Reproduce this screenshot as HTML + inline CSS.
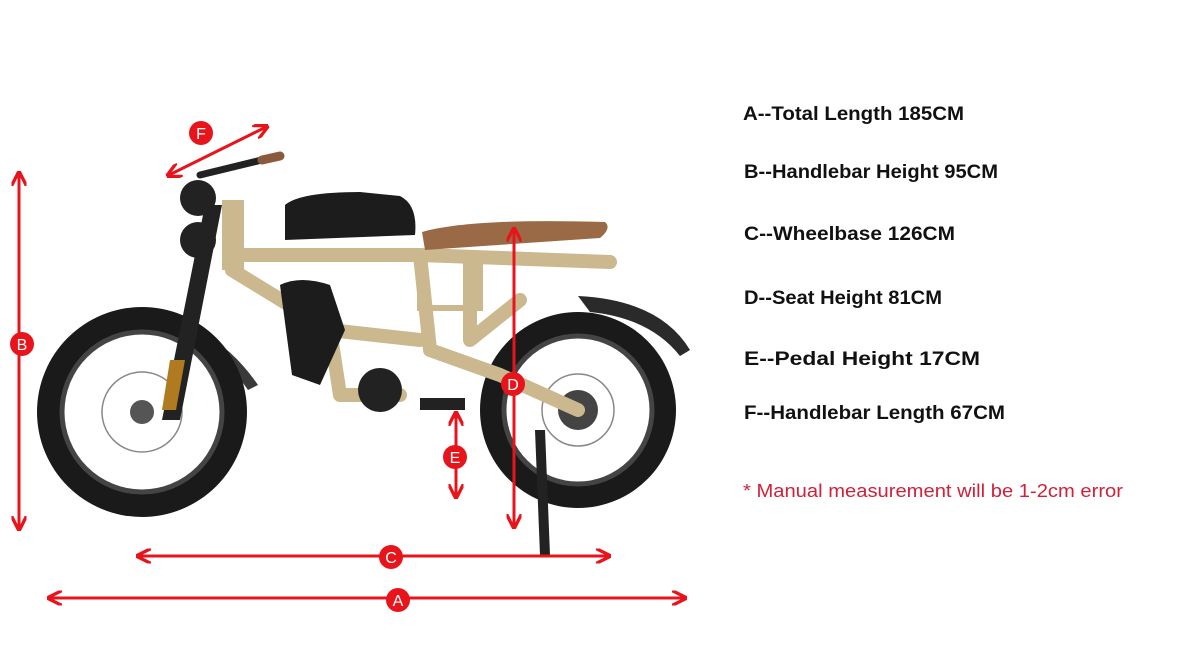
<!DOCTYPE html>
<html><head><meta charset="utf-8"><style>
html,body{margin:0;padding:0;background:#fff;}
svg{display:block;}
</style></head><body>
<svg width="1178" height="663" viewBox="0 0 1178 663" xmlns="http://www.w3.org/2000/svg">
<defs>
<marker id="ah" viewBox="0 0 10 10" refX="8" refY="5" markerWidth="5" markerHeight="5" orient="auto-start-reverse">
<path d="M0,0 L10,5 L0,10" fill="none" stroke="#e8141b" stroke-width="2.2"/>
</marker>
</defs>
<rect width="1178" height="663" fill="#fff"/>
<g>
<path d="M578,296 Q660,300 690,350 L680,356 Q650,318 590,312 Z" fill="#2a2a2a"/>
<path d="M95,320 Q200,300 258,385 L248,390 Q200,320 110,330 Z" fill="#3a3a3a"/>
<circle cx="142" cy="412" r="105" fill="#1a1a1a"/>
<circle cx="142" cy="412" r="80" fill="#fff"/>
<circle cx="142" cy="412" r="80" fill="none" stroke="#444" stroke-width="5"/>
<circle cx="142" cy="412" r="40" fill="none" stroke="#888" stroke-width="1.5"/>
<circle cx="142" cy="412" r="12" fill="#555"/>
<circle cx="578" cy="410" r="98" fill="#1a1a1a"/>
<circle cx="578" cy="410" r="74" fill="#fff"/>
<circle cx="578" cy="410" r="74" fill="none" stroke="#444" stroke-width="5"/>
<circle cx="578" cy="410" r="36" fill="none" stroke="#888" stroke-width="1.5"/>
<circle cx="578" cy="410" r="20" fill="#444"/>
<path d="M205,205 L222,205 L180,420 L162,420 Z" fill="#222"/>
<path d="M170,360 L185,360 L176,410 L162,410 Z" fill="#b07a20"/>
<g stroke="#cbb88f" stroke-width="14" fill="none" stroke-linecap="round" stroke-linejoin="round">
<path d="M240,255 L420,255 L610,262"/>
<path d="M232,215 L232,270 L330,330 L420,340"/>
<path d="M420,255 L430,350 L500,375 L578,410"/>
<path d="M470,262 L470,340 L520,300"/>
<path d="M330,330 L340,395 L400,395"/>
</g>
<rect x="420" y="258" width="60" height="50" fill="none" stroke="#cbb88f" stroke-width="6"/>
<rect x="222" y="200" width="22" height="70" fill="#cbb88f"/>
<circle cx="198" cy="198" r="18" fill="#222"/>
<circle cx="198" cy="240" r="18" fill="#222"/>
<path d="M200,175 L270,158" stroke="#222" stroke-width="7" stroke-linecap="round"/>
<path d="M262,160 L280,156" stroke="#8b5a3c" stroke-width="9" stroke-linecap="round"/>
<path d="M285,205 Q300,192 360,192 L400,196 Q418,205 415,235 L285,240 Z" fill="#1c1c1c"/>
<path d="M422,232 Q470,218 605,222 Q612,228 600,238 L425,250 Z" fill="#9a6a47"/>
<path d="M280,285 Q300,275 330,285 L345,330 L320,385 L292,375 Z" fill="#1c1c1c"/>
<circle cx="380" cy="390" r="22" fill="#222"/>
<rect x="420" y="398" width="45" height="12" fill="#222"/>
<path d="M535,430 L540,555 L550,555 L545,430 Z" fill="#222"/>
</g>
<g stroke="#e8141b" stroke-width="3" fill="none" marker-start="url(#ah)" marker-end="url(#ah)">
<line x1="50" y1="598" x2="684" y2="598"/>
<line x1="139" y1="556" x2="608" y2="556"/>
<line x1="19" y1="174" x2="19" y2="528"/>
<line x1="514" y1="230" x2="514" y2="526"/>
<line x1="456" y1="414" x2="456" y2="496"/>
<line x1="169" y1="175" x2="266" y2="127"/>
</g>
<g fill="#e8141b" font-family="Liberation Sans, sans-serif" font-size="16" text-anchor="middle">
<circle cx="398" cy="600" r="12"/><text x="398" y="606" fill="#fff">A</text>
<circle cx="391" cy="557" r="12"/><text x="391" y="563" fill="#fff">C</text>
<circle cx="22" cy="344" r="12"/><text x="22" y="350" fill="#fff">B</text>
<circle cx="513" cy="384" r="12"/><text x="513" y="390" fill="#fff">D</text>
<circle cx="455" cy="457" r="12"/><text x="455" y="463" fill="#fff">E</text>
<circle cx="201" cy="133" r="12"/><text x="201" y="139" fill="#fff">F</text>
</g>
<g font-family="Liberation Sans, sans-serif" font-weight="bold" font-size="19" fill="#111">
<text x="743" y="120" textLength="221" lengthAdjust="spacingAndGlyphs">A--Total Length 185CM</text>
<text x="744" y="178" textLength="254" lengthAdjust="spacingAndGlyphs">B--Handlebar Height 95CM</text>
<text x="744" y="240" textLength="211" lengthAdjust="spacingAndGlyphs">C--Wheelbase 126CM</text>
<text x="744" y="304" textLength="198" lengthAdjust="spacingAndGlyphs">D--Seat Height 81CM</text>
<text x="744" y="365" textLength="236" lengthAdjust="spacingAndGlyphs">E--Pedal Height 17CM</text>
<text x="744" y="419" textLength="261" lengthAdjust="spacingAndGlyphs">F--Handlebar Length 67CM</text>
</g>
<text x="743" y="497" font-family="Liberation Sans, sans-serif" font-size="18" fill="#d0203a" textLength="380" lengthAdjust="spacingAndGlyphs">*  Manual measurement will be 1-2cm error</text>
</svg>
</body></html>
